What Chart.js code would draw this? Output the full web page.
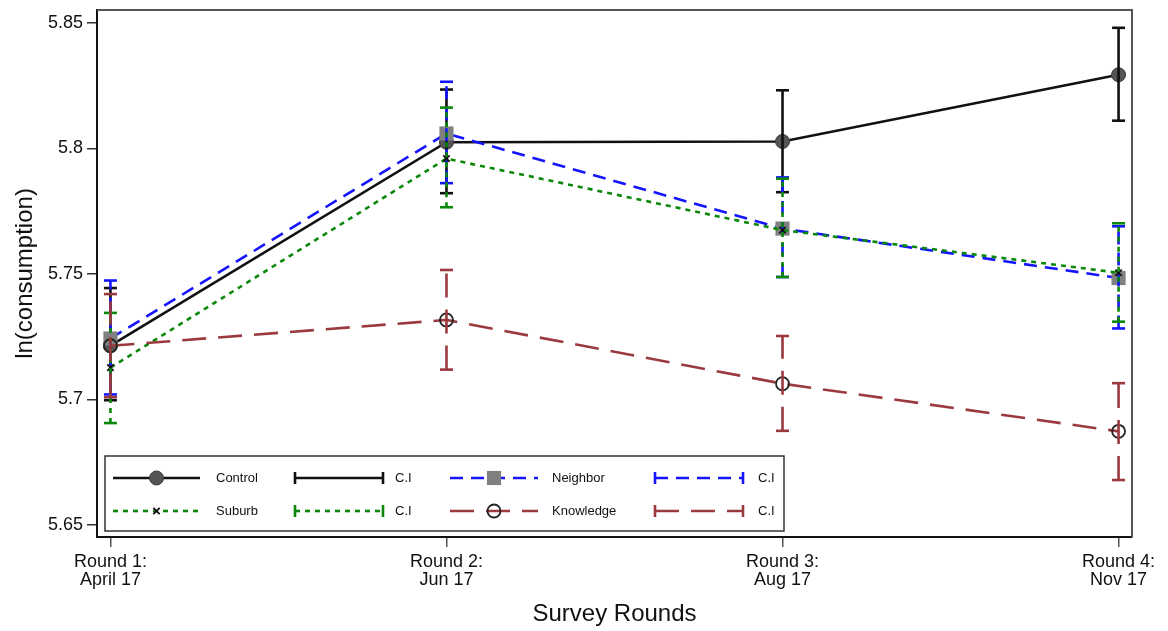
<!DOCTYPE html>
<html>
<head>
<meta charset="utf-8">
<script src="https://cdn.jsdelivr.net/npm/chart.js@4.4.1/dist/chart.umd.min.js"></script>
<style>
  html, body { margin: 0; padding: 0; background: #fff; }
  canvas { display: block; }
</style>
</head>
<body>
<canvas id="grafico" width="1168" height="631"></canvas>
<script>
// === Datos ===
const rondas = [["Round 1:", "April 17"], ["Round 2:", "Jun 17"], ["Round 3:", "Aug 17"], ["Round 4:", "Nov 17"]];
const yTicks = [5.65, 5.7, 5.75, 5.8, 5.85];
const yTickLabels = ["5.65", "5.7", "5.75", "5.8", "5.85"];

const control = [5.7215, 5.8025, 5.8028, 5.8294];
const controlLo = [5.6997, 5.7822, 5.7826, 5.8111];
const controlHi = [5.7444, 5.8235, 5.8232, 5.8481];

const neighbor = [5.7243, 5.8060, 5.7681, 5.7484];
const neighborLo = [5.7020, 5.7862, 5.7488, 5.7283];
const neighborHi = [5.7474, 5.8266, 5.7885, 5.7690];

const suburb = [5.7127, 5.7960, 5.7675, 5.7505];
const suburbLo = [5.6906, 5.7766, 5.7488, 5.7310];
const suburbHi = [5.7345, 5.8163, 5.7880, 5.7702];

const knowledge = [5.7214, 5.7317, 5.7063, 5.6873];
const knowledgeLo = [5.7009, 5.7119, 5.6875, 5.6679];
const knowledgeHi = [5.7420, 5.7516, 5.7253, 5.7065];

const FUENTE = "'Liberation Sans', Arial, Helvetica, sans-serif";
const NEGRO = "#111";
const AZUL = "#1414ff";
const VERDE = "#0a880a";
const MARRON = "#9a3a3f";

// puntos de la serie
const serie = (vals) => vals.map((v, i) => ({ x: i, y: v }));
// intervalos: lo, hi y un hueco
const intervalo = (lo, hi) => {
  const out = [];
  lo.forEach((l, i) => out.push({ x: i, y: l }, { x: i, y: hi[i] }, { x: i, y: null }));
  return out;
};

function lineaCI(label, lo, hi, color, dash, order) {
  return {
    label, data: intervalo(lo, hi), order,
    borderColor: color, borderWidth: 2.6, borderDash: dash, spanGaps: false,
    pointStyle: "line", pointRadius: 6.5, pointBorderWidth: 2.6,
    pointBorderColor: color, pointBackgroundColor: color, pointHoverRadius: 6.5
  };
}

const datasets = [
  {
    label: "Control", data: serie(control), order: 7,
    borderColor: NEGRO, borderWidth: 2.6,
    pointStyle: "circle", pointRadius: 7, pointBackgroundColor: "#555",
    pointBorderColor: "#3a3a3a", pointBorderWidth: 1
  },
  lineaCI("C.I", controlLo, controlHi, NEGRO, [], 6),
  {
    label: "Neighbor", data: serie(neighbor), order: 5,
    borderColor: AZUL, borderWidth: 2.6, borderDash: [13, 8],
    pointStyle: "rect", pointRadius: 10, pointBackgroundColor: "#808080",
    pointBorderColor: "#808080", pointBorderWidth: 0
  },
  lineaCI("C.I", neighborLo, neighborHi, AZUL, [13, 8], 4),
  {
    label: "Suburb", data: serie(suburb), order: 3,
    borderColor: VERDE, borderWidth: 2.6, borderDash: [5, 5],
    pointStyle: "crossRot", pointRadius: 4.5, pointBackgroundColor: NEGRO,
    pointBorderColor: NEGRO, pointBorderWidth: 1.8
  },
  lineaCI("C.I", suburbLo, suburbHi, VERDE, [5, 5], 2),
  {
    label: "Knowledge", data: serie(knowledge), order: 1,
    borderColor: MARRON, borderWidth: 2.6, borderDash: [24, 12],
    pointStyle: "circle", pointRadius: 6.5, pointBackgroundColor: "rgba(0,0,0,0)",
    pointBorderColor: "#222", pointBorderWidth: 1.8
  },
  lineaCI("C.I", knowledgeLo, knowledgeHi, MARRON, [24, 12], 0)
];

// === Marco del area del grafico ===
const marco = {
  id: "marco",
  beforeDatasetsDraw(chart) {
    const { ctx, chartArea: a } = chart;
    ctx.save();
    ctx.strokeStyle = "#555";
    ctx.lineWidth = 2;
    ctx.beginPath();
    ctx.moveTo(a.left, a.top);
    ctx.lineTo(a.right, a.top);
    ctx.lineTo(a.right, a.bottom);
    ctx.stroke();
    ctx.restore();
  }
};

// === Leyenda dentro del grafico ===
function marcador(ctx, ds, x, y) {
  ctx.save();
  ctx.setLineDash([]);
  ctx.fillStyle = ds.pointBackgroundColor;
  ctx.strokeStyle = ds.pointBorderColor;
  ctx.lineWidth = ds.pointBorderWidth;
  const r = ds.pointRadius;
  if (ds.pointStyle === "rect") {
    const s = r * Math.SQRT1_2;
    ctx.fillRect(x - s, y - s, 2 * s, 2 * s);
  } else if (ds.pointStyle === "crossRot") {
    const s = r * Math.SQRT1_2;
    ctx.beginPath();
    ctx.moveTo(x - s, y - s); ctx.lineTo(x + s, y + s);
    ctx.moveTo(x - s, y + s); ctx.lineTo(x + s, y - s);
    ctx.stroke();
  } else {
    ctx.beginPath();
    ctx.arc(x, y, r, 0, Math.PI * 2);
    ctx.fill();
    if (ds.pointBorderWidth) ctx.stroke();
  }
  ctx.restore();
}

const leyenda = {
  id: "leyenda",
  afterDraw(chart) {
    const { ctx } = chart;
    const caja = { x: 105, y: 456, w: 679, h: 75 };
    ctx.save();
    ctx.fillStyle = "#fff";
    ctx.fillRect(caja.x, caja.y, caja.w, caja.h);
    ctx.strokeStyle = "#333";
    ctx.lineWidth = 1.5;
    ctx.strokeRect(caja.x, caja.y, caja.w, caja.h);

    const filas = [478, 511];
    const cols = [{ x0: 113, x1: 200, tx: 216 }, { x0: 295, x1: 383, tx: 395 },
                  { x0: 450, x1: 538, tx: 552 }, { x0: 655, x1: 743, tx: 758 }];
    // orden: fila 1 Control, C.I, Neighbor, C.I ; fila 2 Suburb, C.I, Knowledge, C.I
    const orden = [[0, 1, 2, 3], [4, 5, 6, 7]];
    ctx.font = "13px " + FUENTE;
    ctx.textBaseline = "middle";
    orden.forEach((fila, f) => {
      const y = filas[f];
      fila.forEach((idx, c) => {
        const ds = datasets[idx];
        const col = cols[c];
        ctx.save();
        ctx.strokeStyle = ds.borderColor;
        ctx.lineWidth = ds.borderWidth;
        ctx.setLineDash(ds.borderDash || []);
        ctx.beginPath();
        ctx.moveTo(col.x0, y);
        ctx.lineTo(col.x1, y);
        ctx.stroke();
        ctx.setLineDash([]);
        if (ds.pointStyle === "line") {
          ctx.beginPath();
          ctx.moveTo(col.x0, y - 6); ctx.lineTo(col.x0, y + 6);
          ctx.moveTo(col.x1, y - 6); ctx.lineTo(col.x1, y + 6);
          ctx.stroke();
        } else {
          marcador(ctx, ds, (col.x0 + col.x1) / 2, y);
        }
        ctx.restore();
        ctx.fillStyle = "#111";
        ctx.fillText(ds.label, col.tx, y);
      });
    });
    ctx.restore();
  }
};

// === Grafico ===
new Chart(document.getElementById("grafico"), {
  type: "line",
  data: { datasets },
  plugins: [marco, leyenda],
  options: {
    responsive: false,
    devicePixelRatio: 1,
    animation: false,
    layout: { padding: { left: 0, right: 36, top: 8, bottom: 0 } },
    plugins: {
      legend: { display: false },
      tooltip: { enabled: false }
    },
    elements: { line: { tension: 0 } },
    scales: {
      x: {
        type: "linear",
        min: -0.04,
        max: 3.04,
        afterFit: (s) => { s.height = 94; },
        afterBuildTicks: (s) => { s.ticks = rondas.map((_, i) => ({ value: i })); },
        grid: { drawOnChartArea: false, drawTicks: true, tickLength: 10, color: "#555", lineWidth: 1.5 },
        border: { display: true, color: NEGRO, width: 2 },
        ticks: {
          autoSkip: false, maxRotation: 0, padding: 6, color: "#111",
          font: { family: FUENTE, size: 18, lineHeight: 1.0 },
          callback: (v) => rondas[Math.round(v)]
        },
        title: {
          display: true, text: "Survey Rounds", color: "#111",
          font: { family: FUENTE, size: 24 }, padding: { top: 0, bottom: 2 }
        }
      },
      y: {
        min: 5.6452,
        max: 5.8552,
        afterFit: (s) => { s.width = 97; },
        afterBuildTicks: (s) => { s.ticks = yTicks.map((v) => ({ value: v })); },
        grid: { drawOnChartArea: false, drawTicks: true, tickLength: 10, color: "#333", lineWidth: 1.5 },
        border: { display: true, color: NEGRO, width: 2 },
        ticks: {
          padding: 4, color: "#111",
          font: { family: FUENTE, size: 18, lineHeight: 0.5 },
          callback: (v, i) => yTickLabels[i]
        },
        title: {
          display: true, text: "ln(consumption)", color: "#111",
          font: { family: FUENTE, size: 24 }, padding: { top: 11, bottom: 0 }
        }
      }
    }
  }
});
</script>
</body>
</html>
